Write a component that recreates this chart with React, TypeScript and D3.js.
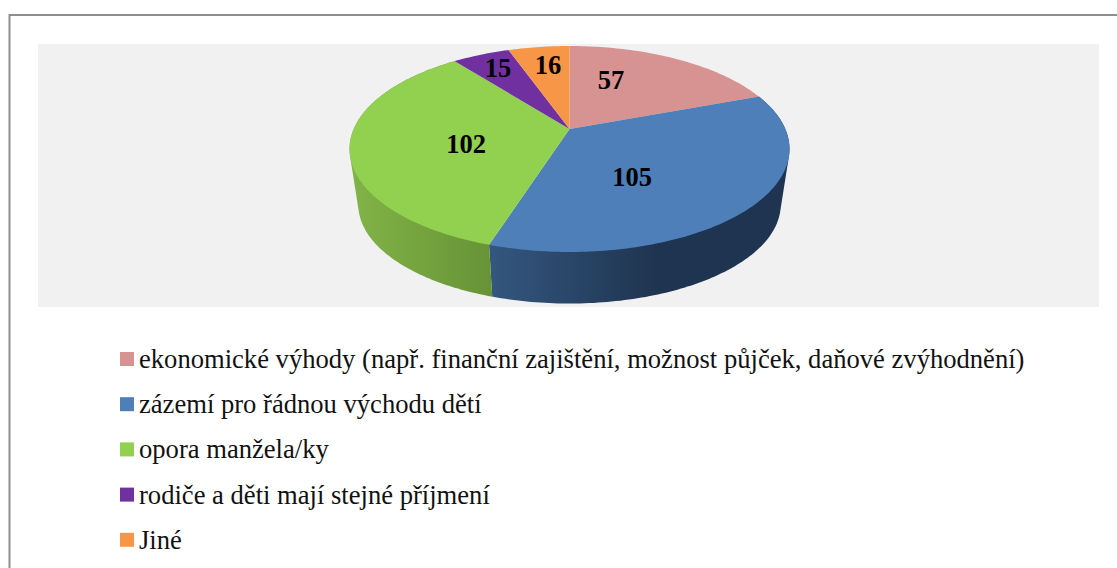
import React from "react";
import * as d3 from "d3";

const W = 1117;
const H = 568;

const categories = [
  "ekonomické výhody (např. finanční zajištění, možnost půjček, daňové zvýhodnění)",
  "zázemí pro řádnou východu dětí",
  "opora manžela/ky",
  "rodiče a děti mají stejné příjmení",
  "Jiné",
];
const values = [57, 105, 102, 15, 16];
const colors = ["#d79391", "#4f7fb9", "#92d050", "#7030a0", "#f79646"];
const labelPos = [
  [611, 79.5],
  [632, 177],
  [466, 143.5],
  [498, 67.5],
  [548, 64.5],
];

const cx = 569.5;
const apexY = 129;
const k = 0.194;
const rxBase = 215.8;
const ryBase = 99.1;
const depthScale = 0.96;
const baseApexY = 185.5;

const project = (theta: number, bottom: boolean): [number, number] => {
  const u = Math.sin(theta);
  const v = -Math.cos(theta);
  const s = 1 / (1 - k * v);
  const f = bottom ? depthScale : 1;
  return [cx + f * rxBase * u * s, (bottom ? baseApexY : apexY) + f * ryBase * v * s];
};

const arcs = d3.pie<number>().sort(null)(values);
const line = d3.line();
const STEP = Math.PI / 180;

const facePath = (a: number, b: number) => {
  const pts: [number, number][] = [[cx, apexY]];
  d3.range(a, b, STEP).forEach((t) => pts.push(project(t, false)));
  pts.push(project(b, false));
  return line(pts) + "Z";
};

const sidePath = (a: number, b: number) => {
  const pts: [number, number][] = [];
  d3.range(a, b, STEP).forEach((t) => {
    pts.push(project(t, false));
    pts.push(project(t, true));
  });
  pts.push(project(b, false));
  pts.push(project(b, true));
  const hull = d3.polygonHull(pts);
  return hull ? line(hull) + "Z" : "";
};

export default function App() {
  return (
    <svg
      width={W}
      height={H}
      viewBox={`0 0 ${W} ${H}`}
      style={{ position: "fixed", left: 0, top: 0, background: "#fff", display: "block" }}
    >
      <defs>
        <linearGradient id="blueSide" gradientUnits="userSpaceOnUse" x1={490} x2={790} y1={0} y2={0}>
          <stop offset="0" stopColor="#34577f" />
          <stop offset="0.55" stopColor="#1f3450" />
          <stop offset="1" stopColor="#1f3450" />
        </linearGradient>
        <linearGradient id="greenSide" gradientUnits="userSpaceOnUse" x1={352} x2={492} y1={0} y2={0}>
          <stop offset="0" stopColor="#82b347" />
          <stop offset="1" stopColor="#669336" />
        </linearGradient>
      </defs>
      <path d={`M9.5 568V15H1117`} fill="none" stroke="#8e8e8e" strokeWidth={2} />
      <rect x={38} y={44} width={1061} height={263} fill="#f1f1f1" />
      <path d={sidePath(arcs[1].startAngle, arcs[1].endAngle)} fill="url(#blueSide)" />
      <path d={sidePath(arcs[2].startAngle, arcs[2].endAngle)} fill="url(#greenSide)" />
      {arcs.map((a, i) => (
        <path key={i} d={facePath(a.startAngle, a.endAngle)} fill={colors[i]} />
      ))}
      {values.map((v, i) => (
        <text
          key={i}
          x={labelPos[i][0]}
          y={labelPos[i][1]}
          textAnchor="middle"
          dominantBaseline="central"
          fontFamily="'Liberation Serif', serif"
          fontWeight="bold"
          fontSize={26.5}
          fill="#000"
        >
          {v}
        </text>
      ))}
      {categories.map((c, i) => {
        const y = 352 + i * 45.2;
        return (
          <g key={i}>
            <rect x={120} y={y} width={14} height={14} fill={colors[i]} />
            <text x={139} y={y + 16} fontFamily="'Liberation Serif', serif" fontSize={26.6} fill="#111">
              {c}
            </text>
          </g>
        );
      })}
    </svg>
  );
}
